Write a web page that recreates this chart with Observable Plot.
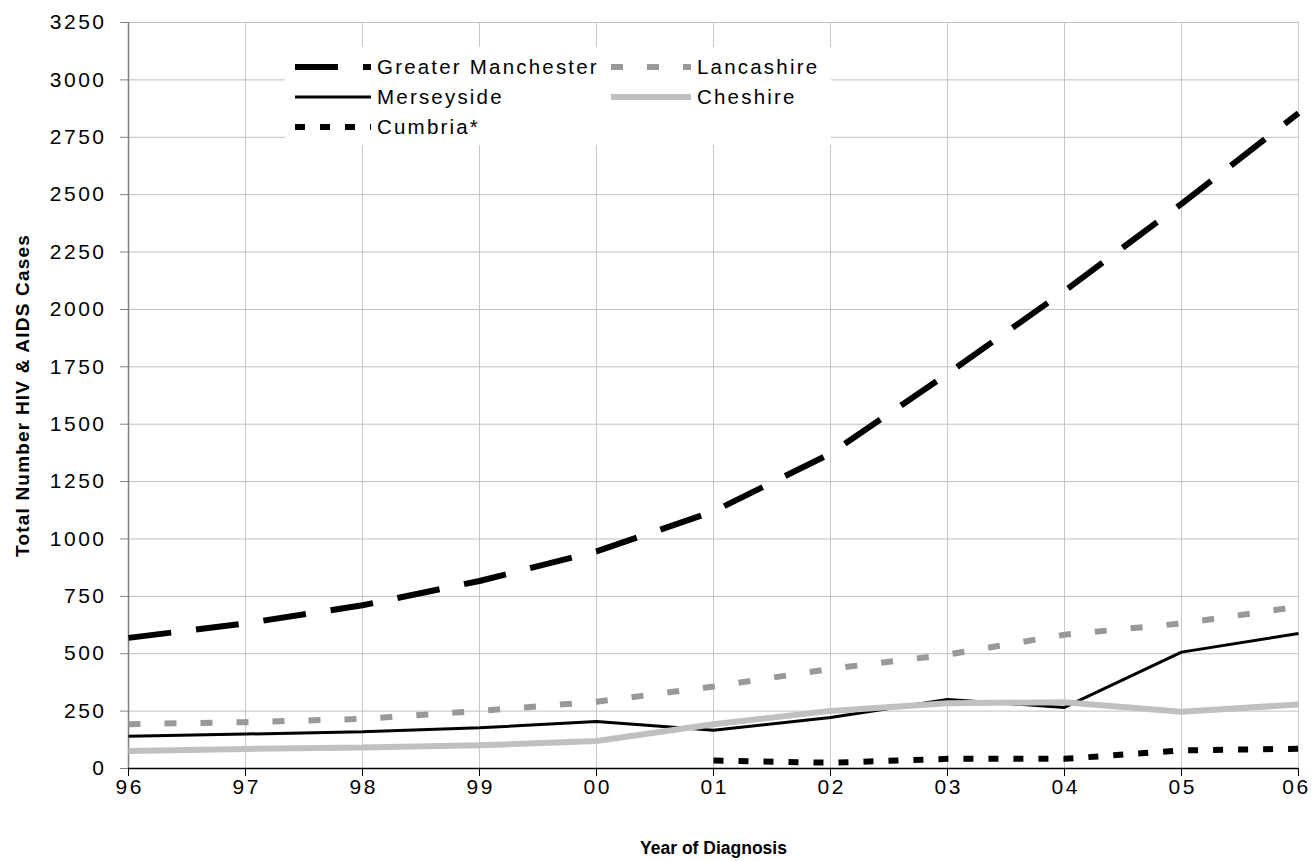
<!DOCTYPE html>
<html>
<head>
<meta charset="utf-8">
<script src="https://cdn.jsdelivr.net/npm/d3@7"></script>
<script src="https://cdn.jsdelivr.net/npm/@observablehq/plot@0.6"></script>
<style>
  html, body { margin: 0; padding: 0; background: #fff; }
  #wrap { position: relative; width: 1312px; height: 861px; font-family: "Liberation Sans", Arial, sans-serif; }
  #legend { position: absolute; left: 285px; top: 47px; width: 546px; height: 98px; background: #fff; }
</style>
</head>
<body>
<div id="wrap"><div id="legend"></div></div>
<script>
const years = ["96","97","98","99","00","01","02","03","04","05","06"];
const greaterManchester = [569, 632, 711, 817, 946, 1120, 1372, 1720, 2080, 2460, 2855];
const lancashire        = [193, 202, 216, 251, 291, 357, 434, 496, 583, 632, 705];
const merseyside        = [140, 150, 160, 177, 205, 167, 222, 301, 266, 507, 588];
const cheshire          = [76, 85, 92, 101, 120, 193, 251, 284, 289, 247, 279];
const cumbria           = [null, null, null, null, null, 35, 25, 42, 42, 79, 86];
const yTicks = d3.range(0, 3251, 250);

const seriesList = [
  {name: "Greater Manchester", values: greaterManchester, stroke: "#000", width: 6, dash: "43,25"},
  {name: "Lancashire", values: lancashire, stroke: "#999999", width: 6, dash: "12,24"},
  {name: "Merseyside", values: merseyside, stroke: "#000", width: 3, dash: null},
  {name: "Cheshire", values: cheshire, stroke: "#c0c0c0", width: 6, dash: null},
  {name: "Cumbria*", values: cumbria, stroke: "#000", width: 6, dash: "10,15"}
];

const lineMarks = seriesList.map(s => {
  const data = years.map((y, i) => ({year: y, value: s.values[i]})).filter(d => d.value != null);
  return Plot.lineY(data, {
    x: "year", y: "value", stroke: s.stroke, strokeWidth: s.width,
    strokeDasharray: s.dash || undefined, strokeLinecap: "butt", strokeLinejoin: "miter"
  });
});

const chart = Plot.plot({
  width: 1312,
  height: 861,
  marginLeft: 128,
  marginRight: 14,
  marginTop: 22,
  marginBottom: 93,
  style: {fontFamily: "'Liberation Sans', Arial, sans-serif", fontSize: "21px", background: "#fff", color: "#000"},
  x: {type: "point", domain: years, padding: 0, label: null},
  y: {domain: [0, 3250], ticks: yTicks, label: null},
  marks: [
    Plot.gridX(years, {stroke: "#c8c8c8", strokeOpacity: 1, strokeWidth: 1}),
    Plot.gridY(yTicks, {stroke: "#c0c0c0", strokeOpacity: 1, strokeWidth: 1}),
    Plot.axisY(yTicks, {tickSize: 8, tickPadding: 14, tickFormat: d3.format("d"), fontSize: 21, stroke: "#808080", color: "#000"}),
    Plot.axisX(years, {tickSize: 8, tickPadding: 3, fontSize: 21, stroke: "#000"}),
    Plot.ruleX([years[0]], {stroke: "#808080", strokeWidth: 1.5}),
    Plot.ruleY([0], {stroke: "#000", strokeWidth: 1.5}),
    ...lineMarks,
    Plot.text(["Year of Diagnosis"], {frameAnchor: "bottom", dy: 80, lineAnchor: "middle", fontWeight: "bold", fontSize: 17.5, text: d => d}),
    Plot.text(["Total Number HIV & AIDS Cases"], {frameAnchor: "left", dx: -106, rotate: -90, textAnchor: "middle", lineAnchor: "middle", fontWeight: "bold", fontSize: 19, text: d => d})
  ]
});
const wrap = document.getElementById("wrap");
wrap.insertBefore(chart, wrap.firstChild);

// Excel-like wide letter spacing
const svgSel = d3.select(chart);
svgSel.selectAll('g[aria-label="y-axis tick label"] text, g[aria-label="x-axis tick label"] text')
  .style("letter-spacing", "2.5px").style("font-size", "21px");
svgSel.selectAll('g[aria-label="x-axis tick label"] text').attr("dx", 1.2);
svgSel.selectAll('g[aria-label="x-axis tick label"] text').filter(function() { return this.textContent === years[years.length - 1]; })
  .attr("dx", -2);
svgSel.selectAll("text").filter(function() { return this.textContent === "Total Number HIV & AIDS Cases"; })
  .style("letter-spacing", "1.2px");

// Legend (overlay box inside plot area)
const legendSvg = d3.select("#legend").append("svg").attr("width", 546).attr("height", 98)
  .style("font-family", "'Liberation Sans', Arial, sans-serif").style("font-size", "20.5px")
  .style("letter-spacing", "2.2px");
const cols = [[0, 2, 4], [1, 3]];
const colX = [10, 326];
const sampleW = [76, 80];
cols.forEach((col, ci) => {
  col.forEach((si, ri) => {
    const s = seriesList[si];
    const y = 20 + ri * 30;
    const x0 = colX[ci];
    legendSvg.append("line").attr("x1", x0).attr("x2", x0 + sampleW[ci]).attr("y1", y).attr("y2", y)
      .attr("stroke", s.stroke).attr("stroke-width", s.width)
      .attr("stroke-dasharray", s.dash || null);
    legendSvg.append("text").attr("x", x0 + sampleW[ci] + 6).attr("y", y).attr("dy", "0.35em").text(s.name);
  });
});
</script>
</body>
</html>
